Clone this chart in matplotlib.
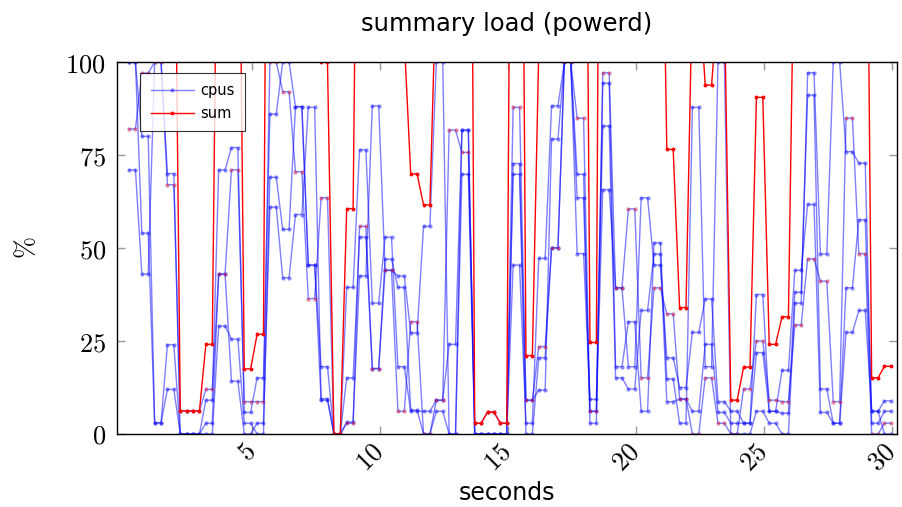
import numpy as np
import matplotlib
matplotlib.use('agg')
import matplotlib.pyplot as plt

plt.rcParams['mathtext.fontset'] = 'cm'
plt.rcParams['font.family'] = ['DejaVu Sans']

# one value per 0.5 s sample, each held for two points (0.25 s apart)
t0 = 0.21
dt = 0.25

cpu_a = [100, 80, 3, 24, 0, 0, 9.1, 71, 77, 5.8,
         15.1, 86, 100, 88, 45.4, 18.1, 0, 39.4, 76.4, 35.2,
         52.9, 18.1, 6.1, 6.1, 9.1, 24.1, 81.7, 0, 0, 0,
         45.4, 2.9, 47.2, 88.2, 100, 63.5, 6.1, 65.7, 39.3, 18.1,
         63.5, 45.4, 20.5, 12.5, 27.3, 36.3, 8.7, 6.1, 2.9, 37.5,
         6.1, 17.1, 44, 61.7, 5.8, 2.9, 39.3, 57.6, 6.1, 8.9]
cpu_b = [71, 43, 100, 70, 0, 0, 2.9, 43, 14.2, 0,
         2.9, 61, 42, 59, 87.8, 9.5, 0, 3.2, 42.5, 88.2,
         44, 42.5, 27.2, 55.8, 100, 0, 69.8, 0, 0, 0,
         72.7, 9.1, 11.8, 79.3, 100, 69.8, 2.9, 94.3, 18.1, 30.2,
         6.1, 51.4, 14.8, 2.9, 87.8, 18.1, 100, 0, 0, 6.1,
         2.9, 0, 35.2, 97.1, 48.4, 100, 75.9, 72.8, 2.9, 6.1]
cpu_c = [100, 54, 3, 12, 0, 0, 0, 29, 25.5, 2.9,
         0, 69, 55, 88, 45.4, 9.1, 0, 15.1, 52.9, 17.6,
         47, 39.4, 6.4, 0, 6.1, 0, 81.7, 0, 0, 0,
         69.8, 0, 20.5, 50.1, 100, 48.5, 9.3, 82.8, 15.1, 12.1,
         33.2, 48.4, 8.7, 9.4, 6.1, 24.1, 5.8, 2.9, 2.9, 21.9,
         6.1, 5.6, 38.1, 91.1, 12.1, 2.9, 27.3, 33.2, 6.1, 0]
cpu_d = [82, 97, 100, 67, 6.2, 6.2, 12, 43, 71, 8.7,
         8.7, 100, 92, 70.5, 36.4, 63.5, 0, 2.9, 55.8, 17.6,
         44, 6.1, 30.2, 0, 9.1, 81.7, 75.7, 2.9, 5.9, 2.9,
         87.8, 9.1, 23.5, 50, 100, 84.9, 6.1, 97.1, 39.3, 60.5,
         15.1, 39.3, 32.3, 9.4, 0, 15.1, 2.9, 0, 12.1, 25,
         9.1, 8.7, 29.3, 47.1, 41.1, 8.7, 84.9, 48.5, 0, 2.9]
total = [353, 274, 206, 173, 6.2, 6.2, 24.1, 186, 188, 17.5,
         26.8, 316, 289, 305, 215, 100, 0, 60.6, 228, 159,
         188, 106, 69.9, 61.6, 124, 106, 309, 2.9, 5.9, 2.9,
         276, 21.1, 103, 268, 400, 267, 24.6, 340, 112, 121,
         118, 185, 76.5, 34, 121, 93.8, 117, 9.1, 18, 90.5,
         24.1, 31.5, 147, 297, 107, 115, 227, 212, 15.1, 18.2]

n = len(total)
t = t0 + dt * np.arange(2 * n)

fig = plt.figure(figsize=(9.02, 5.07), dpi=100)
ax = fig.add_axes([117/902, 1-434/507, 780/902, 372/507])

blue_kw = dict(color='blue', alpha=0.5, lw=1.0, marker='o', ms=2.6,
               mec='#7070ff', mew=0.5)
for i, cpu in enumerate([cpu_a, cpu_b, cpu_c, cpu_d]):
    y = np.repeat(cpu, 2)
    face = 'red' if i == 3 else '#1010ff'
    ax.plot(t, y, mfc=face, label='cpus' if i == 0 else None, **blue_kw)

ax.plot(t, np.repeat(total, 2), color='red', lw=1.0, marker='o', ms=1.8,
        mec='red', mfc='red', label='sum')

ax.set_xlim(-0.26, 30.2)
ax.set_ylim(0, 100)
ax.set_xticks([5, 10, 15, 20, 25, 30])
ax.set_yticks([0, 25, 50, 75, 100])
ax.set_xticklabels(['$%d$' % v for v in [5, 10, 15, 20, 25, 30]],
                   rotation=45, ha='right', va='center', rotation_mode='anchor')
ax.set_yticklabels(['$%d$' % v for v in [0, 25, 50, 75, 100]])
ax.tick_params(direction='in', length=6, width=1, color='#999999',
               top=True, right=True, labelsize=19, pad=8)
ax.tick_params(axis='x', pad=10)
for s in ax.spines.values():
    s.set_linewidth(1.0)

ax.set_title('summary load (powerd)', fontsize=17.5, pad=22)
ax.set_xlabel('seconds', fontsize=17, labelpad=3)
ax.set_ylabel(r'$\%$', fontsize=19, labelpad=18)

leg = ax.legend(loc='upper left', bbox_to_anchor=(0.03, 0.97), fontsize=10.5,
                frameon=True, fancybox=False, edgecolor='black',
                handlelength=3.0, handletextpad=0.4, borderpad=0.7,
                labelspacing=0.5, borderaxespad=0)
leg.get_frame().set_linewidth(0.8)

fig.savefig('out.png', dpi=100)
